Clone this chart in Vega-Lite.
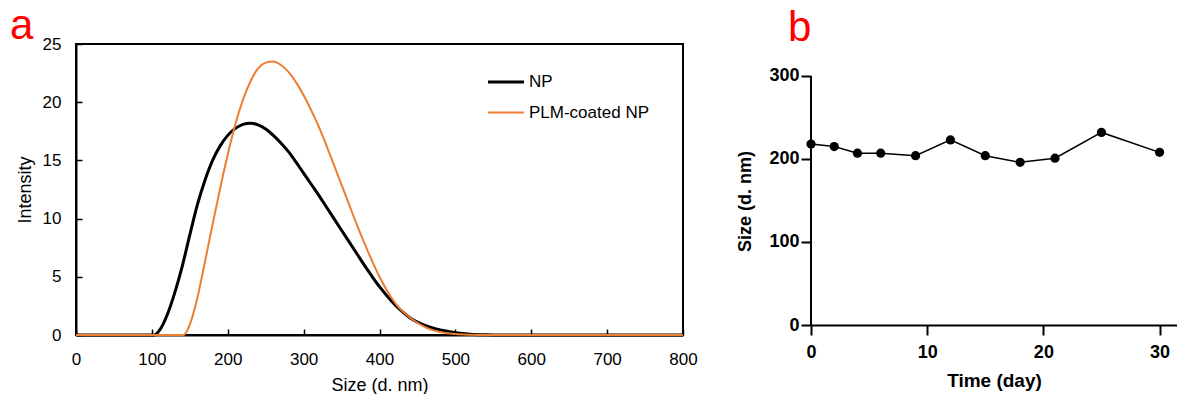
{
  "$schema": "https://vega.github.io/schema/vega-lite/v6.json",
  "autosize": {"type": "pad"},
  "padding": {"left": 9, "top": 4, "right": 0, "bottom": 0},
  "background": "white",
  "spacing": 128,
  "bounds": "flush",
  "config": {
    "font": "Liberation Sans",
    "axis": {"grid": false, "labelColor": "black", "titleColor": "black", "tickColor": "black", "domainColor": "black", "labelFlush": false, "labelOverlap": false}
  },
  "hconcat": [
    {
      "width": 607,
      "height": 291,
      "title": {"text": "a", "color": "#FF0000", "fontSize": 42, "fontWeight": "normal", "anchor": "start", "frame": "group", "dx": -66, "offset": -13},
      "view": {"stroke": "black", "strokeWidth": 2},
      "data": {"values": [
        {"series": "NP", "size": 0, "intensity": 0},
        {"series": "NP", "size": 50, "intensity": 0},
        {"series": "NP", "size": 103, "intensity": 0},
        {"series": "NP", "size": 110, "intensity": 0.4},
        {"series": "NP", "size": 120, "intensity": 1.7},
        {"series": "NP", "size": 130, "intensity": 3.6},
        {"series": "NP", "size": 140, "intensity": 5.9},
        {"series": "NP", "size": 150, "intensity": 8.6},
        {"series": "NP", "size": 160, "intensity": 11.2},
        {"series": "NP", "size": 170, "intensity": 13.3},
        {"series": "NP", "size": 180, "intensity": 15.0},
        {"series": "NP", "size": 190, "intensity": 16.25},
        {"series": "NP", "size": 200, "intensity": 17.15},
        {"series": "NP", "size": 210, "intensity": 17.75},
        {"series": "NP", "size": 220, "intensity": 18.1},
        {"series": "NP", "size": 230, "intensity": 18.2},
        {"series": "NP", "size": 240, "intensity": 18.05},
        {"series": "NP", "size": 250, "intensity": 17.7},
        {"series": "NP", "size": 260, "intensity": 17.15},
        {"series": "NP", "size": 270, "intensity": 16.5},
        {"series": "NP", "size": 280, "intensity": 15.75},
        {"series": "NP", "size": 290, "intensity": 14.85},
        {"series": "NP", "size": 300, "intensity": 13.9},
        {"series": "NP", "size": 310, "intensity": 12.95},
        {"series": "NP", "size": 320, "intensity": 12.0},
        {"series": "NP", "size": 330, "intensity": 11.0},
        {"series": "NP", "size": 340, "intensity": 10.0},
        {"series": "NP", "size": 350, "intensity": 9.0},
        {"series": "NP", "size": 360, "intensity": 8.0},
        {"series": "NP", "size": 370, "intensity": 7.0},
        {"series": "NP", "size": 380, "intensity": 6.0},
        {"series": "NP", "size": 390, "intensity": 5.05},
        {"series": "NP", "size": 400, "intensity": 4.15},
        {"series": "NP", "size": 410, "intensity": 3.35},
        {"series": "NP", "size": 420, "intensity": 2.62},
        {"series": "NP", "size": 430, "intensity": 2.0},
        {"series": "NP", "size": 440, "intensity": 1.48},
        {"series": "NP", "size": 450, "intensity": 1.1},
        {"series": "NP", "size": 460, "intensity": 0.82},
        {"series": "NP", "size": 470, "intensity": 0.6},
        {"series": "NP", "size": 480, "intensity": 0.43},
        {"series": "NP", "size": 500, "intensity": 0.2},
        {"series": "NP", "size": 520, "intensity": 0.07},
        {"series": "NP", "size": 540, "intensity": 0.02},
        {"series": "NP", "size": 560, "intensity": 0},
        {"series": "NP", "size": 800, "intensity": 0},
        {"series": "PLM-coated NP", "size": 0, "intensity": 0},
        {"series": "PLM-coated NP", "size": 100, "intensity": 0},
        {"series": "PLM-coated NP", "size": 142, "intensity": 0},
        {"series": "PLM-coated NP", "size": 150, "intensity": 0.9},
        {"series": "PLM-coated NP", "size": 160, "intensity": 3.2},
        {"series": "PLM-coated NP", "size": 170, "intensity": 6.3},
        {"series": "PLM-coated NP", "size": 180, "intensity": 9.5},
        {"series": "PLM-coated NP", "size": 190, "intensity": 12.6},
        {"series": "PLM-coated NP", "size": 200, "intensity": 15.5},
        {"series": "PLM-coated NP", "size": 210, "intensity": 18.1},
        {"series": "PLM-coated NP", "size": 220, "intensity": 20.2},
        {"series": "PLM-coated NP", "size": 230, "intensity": 21.8},
        {"series": "PLM-coated NP", "size": 240, "intensity": 22.9},
        {"series": "PLM-coated NP", "size": 250, "intensity": 23.4},
        {"series": "PLM-coated NP", "size": 260, "intensity": 23.5},
        {"series": "PLM-coated NP", "size": 270, "intensity": 23.2},
        {"series": "PLM-coated NP", "size": 280, "intensity": 22.6},
        {"series": "PLM-coated NP", "size": 290, "intensity": 21.7},
        {"series": "PLM-coated NP", "size": 300, "intensity": 20.6},
        {"series": "PLM-coated NP", "size": 310, "intensity": 19.3},
        {"series": "PLM-coated NP", "size": 320, "intensity": 17.9},
        {"series": "PLM-coated NP", "size": 330, "intensity": 16.3},
        {"series": "PLM-coated NP", "size": 340, "intensity": 14.6},
        {"series": "PLM-coated NP", "size": 350, "intensity": 12.9},
        {"series": "PLM-coated NP", "size": 360, "intensity": 11.2},
        {"series": "PLM-coated NP", "size": 370, "intensity": 9.5},
        {"series": "PLM-coated NP", "size": 380, "intensity": 7.9},
        {"series": "PLM-coated NP", "size": 390, "intensity": 6.4},
        {"series": "PLM-coated NP", "size": 400, "intensity": 5.0},
        {"series": "PLM-coated NP", "size": 410, "intensity": 3.8},
        {"series": "PLM-coated NP", "size": 420, "intensity": 2.8},
        {"series": "PLM-coated NP", "size": 430, "intensity": 2.05},
        {"series": "PLM-coated NP", "size": 440, "intensity": 1.5},
        {"series": "PLM-coated NP", "size": 450, "intensity": 1.05},
        {"series": "PLM-coated NP", "size": 460, "intensity": 0.68},
        {"series": "PLM-coated NP", "size": 470, "intensity": 0.42},
        {"series": "PLM-coated NP", "size": 480, "intensity": 0.26},
        {"series": "PLM-coated NP", "size": 500, "intensity": 0.08},
        {"series": "PLM-coated NP", "size": 520, "intensity": 0.02},
        {"series": "PLM-coated NP", "size": 540, "intensity": 0},
        {"series": "PLM-coated NP", "size": 800, "intensity": 0}
      ]},
      "mark": {"type": "line", "interpolate": "monotone"},
      "encoding": {
        "x": {"field": "size", "type": "quantitative", "scale": {"domain": [0, 800], "nice": false},
          "axis": {"values": [0, 100, 200, 300, 400, 500, 600, 700, 800], "tickSize": -6, "tickWidth": 1.5, "domainWidth": 2, "labelPadding": 22, "labelFontSize": 17, "title": "Size (d. nm)", "titleFontSize": 18, "titleFontWeight": "normal", "titlePadding": 9}},
        "y": {"field": "intensity", "type": "quantitative", "scale": {"domain": [0, 25], "nice": false},
          "axis": {"values": [0, 5, 10, 15, 20, 25], "tickSize": -6, "tickWidth": 1.5, "domainWidth": 2, "labelPadding": 21, "labelFontSize": 17, "title": "Intensity", "titleFontSize": 18, "titleFontWeight": "normal", "titlePadding": 8}},
        "color": {"field": "series", "type": "nominal", "scale": {"domain": ["NP", "PLM-coated NP"], "range": ["#000000", "#ED7D31"]},
          "legend": {"orient": "none", "legendX": 410, "legendY": 18, "title": null, "symbolType": "stroke", "symbolSize": 1300, "labelFontSize": 17, "labelColor": "black", "rowPadding": 3, "labelOffset": 3}},
        "strokeWidth": {"field": "series", "type": "ordinal", "scale": {"domain": ["NP", "PLM-coated NP"], "range": [3, 2]},
          "legend": {"orient": "none", "legendX": 410, "legendY": 18, "title": null, "symbolType": "stroke", "symbolSize": 1300, "labelFontSize": 17, "labelColor": "black", "rowPadding": 3, "labelOffset": 3}}
      }
    },
    {
      "width": 366,
      "height": 281,
      "title": {"text": "b", "color": "#FF0000", "fontSize": 42, "fontWeight": "normal", "anchor": "start", "frame": "group", "dx": -23, "offset": -6},
      "view": {"stroke": null},
      "data": {"values": [
        {"day": 0, "size": 218},
        {"day": 2, "size": 215},
        {"day": 4, "size": 207},
        {"day": 6, "size": 207},
        {"day": 9, "size": 204},
        {"day": 12, "size": 223},
        {"day": 15, "size": 204},
        {"day": 18, "size": 196},
        {"day": 21, "size": 201},
        {"day": 25, "size": 232},
        {"day": 30, "size": 208}
      ]},
      "encoding": {
        "x": {"field": "day", "type": "quantitative", "scale": {"domain": [0, 31.5], "nice": false},
          "axis": {"values": [0, 10, 20, 30], "tickSize": 10, "tickWidth": 2, "domainWidth": 2, "labelPadding": 8, "labelFontSize": 18, "labelFontWeight": "bold", "title": "Time (day)", "titleFontSize": 19, "titleFontWeight": "bold", "titlePadding": 10}},
        "y": {"field": "size", "type": "quantitative", "scale": {"domain": [0, 338.55], "nice": false},
          "axis": {"values": [0, 100, 200, 300], "domain": false, "tickSize": 10, "tickWidth": 2, "labelPadding": 2, "labelFontSize": 18, "labelFontWeight": "bold", "title": "Size (d. nm)", "titleFontSize": 18, "titleFontWeight": "bold", "titlePadding": 14, "titleY": 157}}
      },
      "layer": [
        {
          "mark": {"type": "line", "color": "black", "strokeWidth": 1.5}
        },
        {
          "mark": {"type": "point", "filled": true, "color": "black", "size": 85, "opacity": 1}
        },
        {
          "data": {"values": [{"day": 0, "lo": 0, "hi": 300}]},
          "mark": {"type": "rule", "color": "black", "strokeWidth": 2},
          "encoding": {
            "y": {"field": "lo", "type": "quantitative"},
            "y2": {"field": "hi"}
          }
        }
      ]
    }
  ]
}
